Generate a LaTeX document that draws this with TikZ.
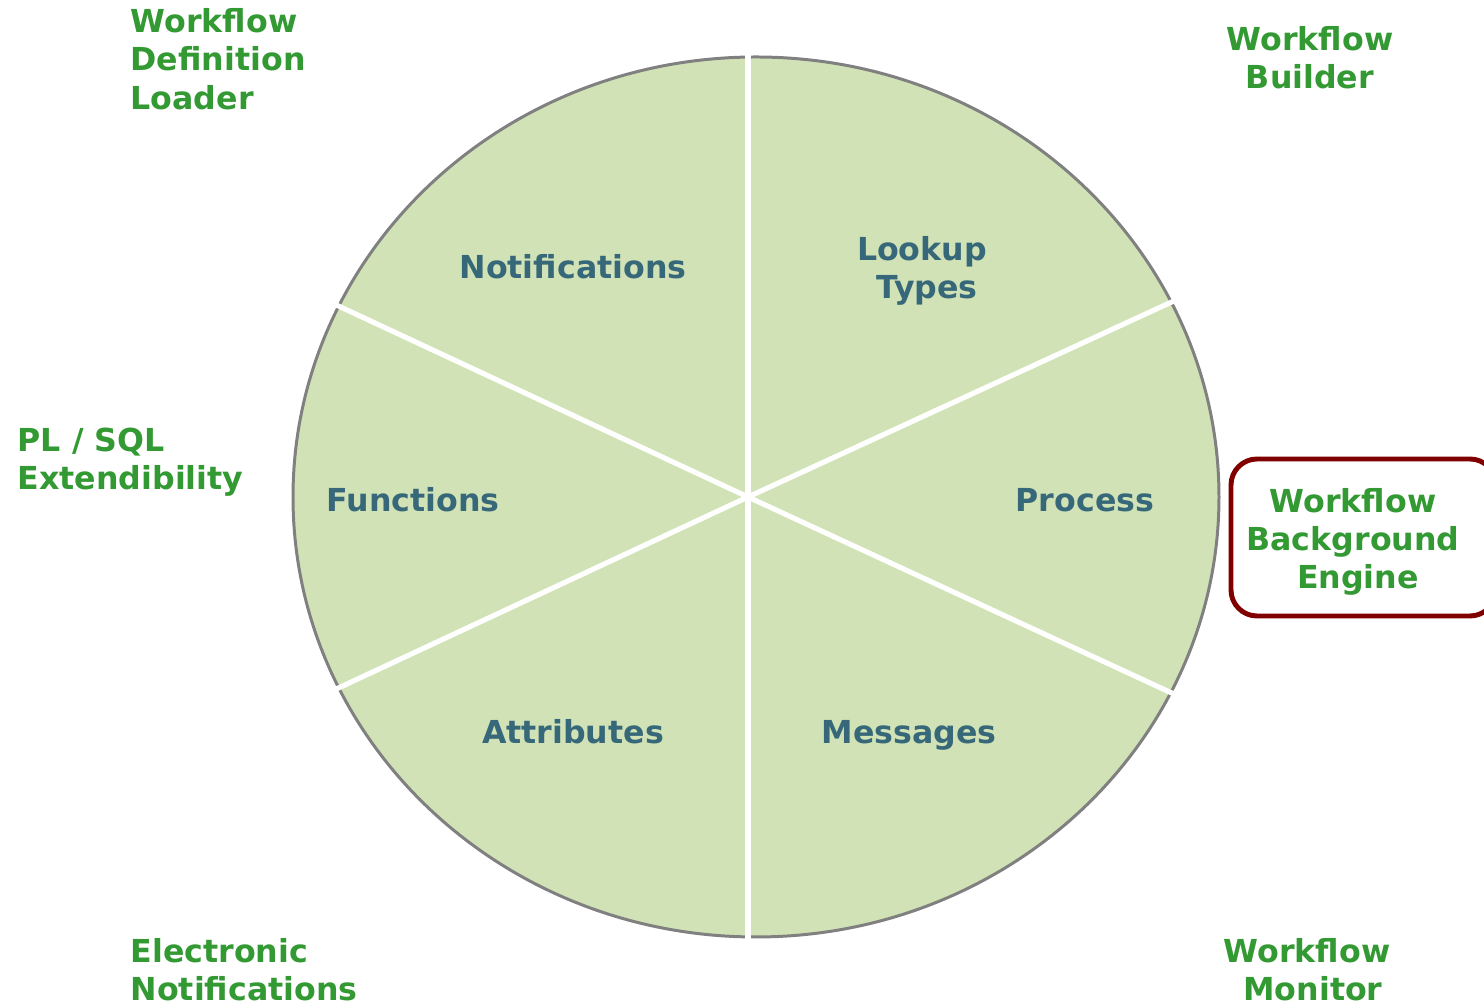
\documentclass[tikz,border=0pt]{standalone}
\usepackage{fontspec}
\setmainfont{DejaVu Sans}
\definecolor{segfill}{RGB}{209,227,182}
\definecolor{rimgray}{RGB}{128,128,128}
\definecolor{segtext}{RGB}{55,104,122}
\definecolor{toolgreen}{RGB}{51,153,51}
\definecolor{boxred}{RGB}{128,0,0}
\tikzset{
  seglabel/.style={inner sep=0pt, text=segtext, font=\fontsize{9}{10.9}\selectfont\bfseries, align=center},
  toollabel/.style={inner sep=0pt, text=toolgreen, font=\fontsize{9}{10.9}\selectfont\bfseries},
  divider/.style={draw=white, line width=1.45pt},
  highlightbox/.style={draw=boxred, line width=1.4pt, rounded corners=0.26cm, fill=white}
}
\begin{document}
\begin{tikzpicture}[x=0.01cm, y=-0.01cm]
\useasboundingbox (0,0) rectangle (1484,1007);
% wheel
\coordinate (c) at (748,497);
\fill[segfill] (756,497) ellipse [x radius=463, y radius=440];
\draw[rimgray, line width=0.85pt] (756,497) ellipse [x radius=463, y radius=440];
\coordinate (top) at (748,50);
\coordinate (bot) at (748,945);
\coordinate (ur) at (1176,300);
\coordinate (ul) at (332,303);
\coordinate (ll) at (332,691);
\coordinate (lr) at (1176,695);
\draw[divider] (c) -- (top);
\draw[divider] (c) -- (bot);
\draw[divider] (c) -- (ur);
\draw[divider] (c) -- (ul);
\draw[divider] (c) -- (ll);
\draw[divider] (c) -- (lr);
% segment labels
\node[seglabel] (notif) at (573,267) {Notifications};
\node[seglabel] (lookup) at (922,271) {Lookup\\\hspace*{0.1cm}Types};
\node[seglabel] (process) at (1085,500) {Process};
\node[seglabel] (functions) at (413,500) {Functions};
\node[seglabel] (attributes) at (573,732) {Attributes};
\node[seglabel] (messages) at (909,735) {Messages};
% outer tool labels
\node[toollabel, anchor=west, align=left] (loader) at (130,59) {Workflow\\Definition\\Loader};
\node[toollabel, align=center] (builder) at (1310,58) {Workflow\\Builder};
\node[toollabel, anchor=west, align=left] (plsql) at (17,462) {PL / SQL\\Extendibility};
\node[toollabel, anchor=west, align=left] (electronic) at (130,970) {Electronic\\Notifications};
\node[toollabel, align=center] (monitor) at (1307,970) {Workflow\\\hspace*{0.12cm}Monitor};
\draw[highlightbox] (1231,459) rectangle (1496,616);
\node[toollabel, align=center] (engine) at (1353,542) {Workflow\\Background\\\hspace*{0.1cm}Engine};
\end{tikzpicture}
\end{document}
